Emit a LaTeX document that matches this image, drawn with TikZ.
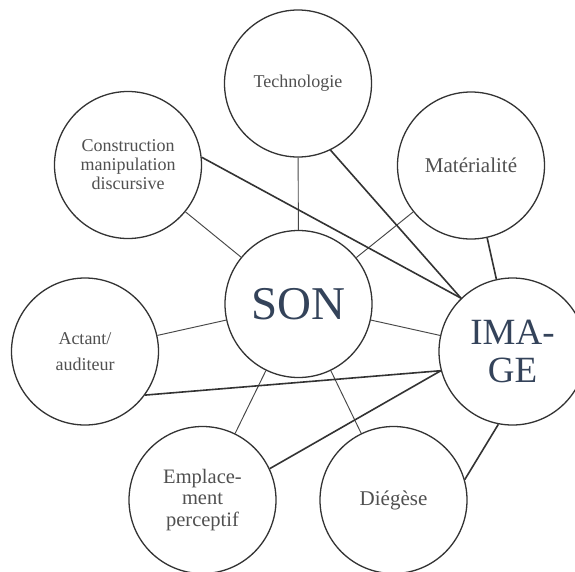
\documentclass[tikz,border=0pt]{standalone}
\usepackage{fontspec}
\setmainfont{Liberation Serif}
\definecolor{edge}{HTML}{333333}
\definecolor{lbl}{HTML}{505050}
\definecolor{big}{HTML}{34435A}
\begin{document}
\begin{tikzpicture}[x=1pt,y=-1pt,
  circ/.style={circle,draw=edge,line width=1.3pt,minimum size=147pt,inner sep=0pt,align=center,text=lbl},
  thin/.style={draw=edge!90,line width=0.95pt},
  thick/.style={draw=edge,line width=1.6pt}]
\useasboundingbox (0,0) rectangle (575,571);
\fill[white] (0,0) rectangle (575,571);
\node[circ,font=\fontsize{18}{19}\selectfont] (tech) at (298,83.5) {Technologie};
\node[circ,font=\fontsize{18}{19}\selectfont] (constr) at (128,165) {Construction\\manipulation\\discursive};
\node[circ,font=\fontsize{21}{22}\selectfont] (mat) at (471,165.5) {Matérialité};
\node[circ,font=\fontsize{47}{50}\selectfont,text=big] (son) at (298.5,304) {SON};
\node[circ,font=\fontsize{18}{26}\selectfont] (act) at (85,351.5) {Actant/\\auditeur};
\node[circ,font=\fontsize{37}{38}\selectfont,text=big] (img) at (512.5,351.5) {IMA-\\GE};
\node[circ,font=\fontsize{20.5}{21.7}\selectfont] (empl) at (202.5,500) {Emplace-\\ment\\perceptif};
\node[circ,font=\fontsize{21}{22}\selectfont] (dieg) at (393.5,500) {Diégèse};
% thin links to SON
\draw[thin] (tech) -- (son);
\draw[thin] (constr) -- (son);
\draw[thin] (mat) -- (son);
\draw[thin] (act) -- (son);
\draw[thin] (son) -- (img);
\draw[thin] (son) -- (empl);
\draw[thin] (son) -- (dieg);
% thick links to IMAGE
\draw[thick] (tech.-64) -- (img.134);
\draw[thick] (constr.6) -- (img.134);
\draw[thick] (mat) -- (img);
\draw[thick] (act.-36) -- (img.195);
\draw[thick] (empl.25) -- (img.195);
\draw[thick] (dieg.16) -- (img.259);
\end{tikzpicture}
\end{document}
